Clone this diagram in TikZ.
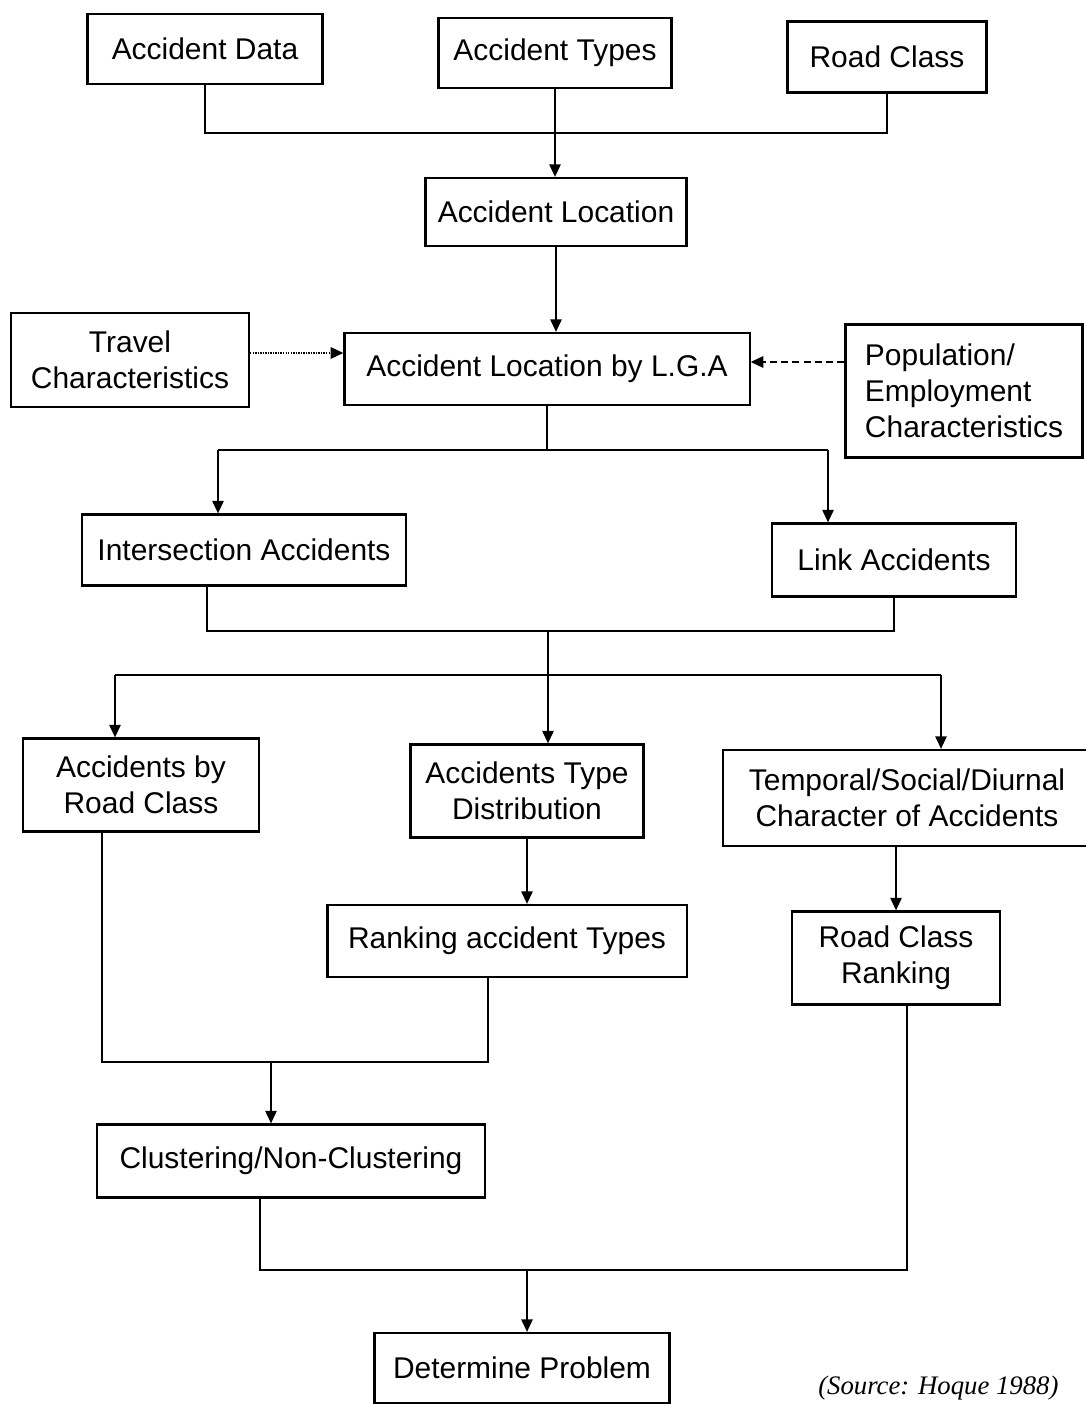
\documentclass[tikz,border=0pt]{standalone}
\usepackage{fontspec}
\setmainfont{Liberation Sans}
\newfontfamily\srcfont{Liberation Serif}
\usetikzlibrary{arrows.meta}
\begin{document}
\begin{tikzpicture}[x=0.025cm,y=-0.025cm,
  box/.style={draw, line width=1.5pt, align=center, inner sep=0pt,
    font=\fontsize{21.3}{25.5}\selectfont},
  conn/.style={line width=1.5pt},
  arr/.style={conn,-{Triangle[length=9pt,width=8pt]}},
  dottedarr/.style={arr,dash pattern=on 1pt off 0.8pt},
  dashedarr/.style={arr,dash pattern=on 5pt off 3pt}]
\useasboundingbox[fill=white] (0,0) rectangle (1085,1404);

% boxes
\node[box,minimum width=5.875cm,minimum height=1.75cm] (adata) at (205,49) {Accident Data};
\node[box,minimum width=5.825cm,minimum height=1.75cm] (atypes) at (555,53) {Accident Types};
\node[box,minimum width=4.975cm,minimum height=1.775cm] (rclass) at (887,57) {Road Class};
\node[box,minimum width=6.525cm,minimum height=1.7cm] (aloc) at (556,212) {Accident Location};
\node[box,minimum width=10.125cm,minimum height=1.8cm] (lga) at (547,369) {Accident Location by L.G.A};
\node[box,minimum width=5.95cm,minimum height=2.35cm] (travel) at (130,360) {Travel\\Characteristics};
\node[box,align=left,minimum width=5.925cm,minimum height=3.325cm] (pop) at (964,391) {Population/\\Employment\\Characteristics};
\node[box,minimum width=8.1cm,minimum height=1.775cm] (inter) at (244,550) {Intersection Accidents};
\node[box,minimum width=6.1cm,minimum height=1.825cm] (link) at (894,560) {Link Accidents};
\node[box,minimum width=5.9cm,minimum height=2.325cm] (abrc) at (141,785) {Accidents by\\Road Class};
\node[box,minimum width=5.825cm,minimum height=2.325cm] (atd) at (527,791) {Accidents Type\\Distribution};
\node[box,minimum width=9.2cm,minimum height=2.4cm] (temp) at (907,798) {Temporal/Social/Diurnal\\Character of Accidents};
\node[box,minimum width=8.975cm,minimum height=1.8cm] (rank) at (507,941) {Ranking accident Types};
\node[box,minimum width=5.2cm,minimum height=2.325cm] (rcr) at (896,958) {Road Class\\Ranking};
\node[box,minimum width=9.7cm,minimum height=1.825cm] (clus) at (291,1161) {Clustering/Non-Clustering};
\node[box,minimum width=7.375cm,minimum height=1.75cm] (det) at (522,1368) {Determine Problem};

\node[anchor=base west,inner sep=0pt,font=\srcfont\itshape\fontsize{19}{23}\selectfont] (src) at (818,1394) {(Source: Hoque 1988)};

% top merge
\coordinate (j1) at (556,133);
\draw[conn] (adata.south) |- (j1) -| (rclass.south);
\draw[arr] (atypes.south) -- (atypes.south |- aloc.north);
\draw[arr] (aloc.south) -- (aloc.south |- lga.north);

% side inputs
\coordinate (lgaw) at ([yshift=0.4cm]lga.west);
\coordinate (lgae) at ([yshift=0.175cm]lga.east);
\draw[dottedarr] (travel.east |- lgaw) -- (lgaw);
\draw[dashedarr] (pop.west |- lgae) -- (lgae);

% LGA split
\coordinate (j2) at (542,450);
\coordinate (j2l) at (218,450);
\coordinate (j2r) at (828,450);
\draw[conn] (lga.south) -- (lga.south |- j2);
\draw[conn] (j2l) -- (j2r);
\draw[arr] (j2l) -- (j2l |- inter.north);
\draw[arr] (j2r) -- (j2r |- link.north);

% intersection/link merge
\coordinate (m2a) at (207,631);
\coordinate (m2c) at (548,631);
\draw[conn] (m2a |- inter.south) -- (m2a) -| (link.south);
\coordinate (s3l) at (115,675);
\coordinate (s3r) at (941,675);
\draw[arr] (m2c) -- (m2c |- atd.north);
\draw[conn] (s3l) -- (s3r);
\draw[arr] (s3l) -- (s3l |- abrc.north);
\draw[arr] (s3r) -- (s3r |- temp.north);

% second level
\draw[arr] (atd.south) -- (atd.south |- rank.north);
\draw[arr] (rcr.north |- temp.south) -- (rcr.north);

% merge to clustering
\coordinate (m4a) at (102,1062);
\coordinate (m4b) at (488,1062);
\coordinate (m4c) at (271,1062);
\draw[conn] (m4a |- abrc.south) -- (m4a) -- (m4b) -- (m4b |- rank.south);
\draw[arr] (m4c) -- (m4c |- clus.north);

% final merge
\coordinate (m5a) at (260,1270);
\coordinate (m5b) at (907,1270);
\coordinate (m5c) at (527,1270);
\draw[conn] (m5a |- clus.south) -- (m5a) -- (m5b) -- (m5b |- rcr.south);
\draw[arr] (m5c) -- (m5c |- det.north);
\end{tikzpicture}
\end{document}
